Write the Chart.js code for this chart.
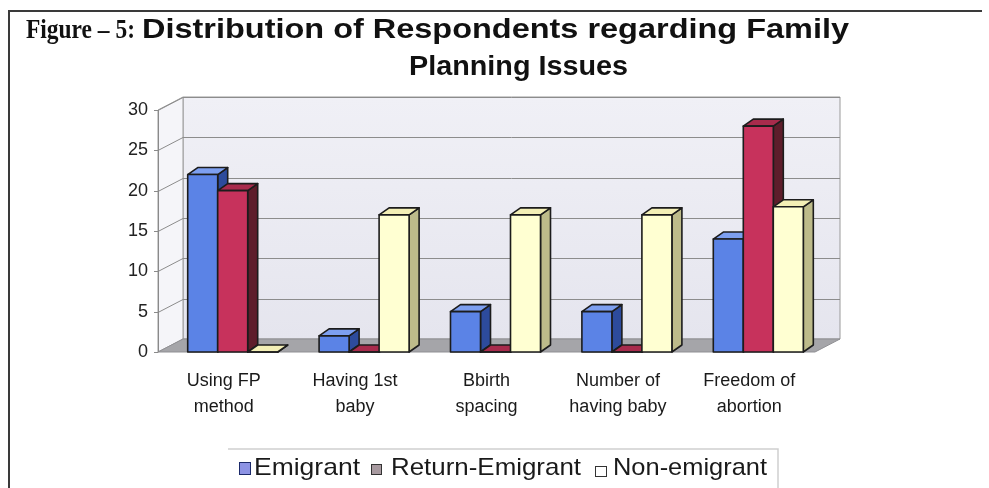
<!DOCTYPE html>
<html>
<head>
<meta charset="utf-8">
<script src="https://cdn.jsdelivr.net/npm/chart.js@4.4.1/dist/chart.umd.min.js"></script>
<style>
  html, body { margin: 0; padding: 0; background: #fff; }
</style>
</head>
<body>
<canvas id="fpChart" width="989" height="488"></canvas>
<script>
const categories = [
  ['Using FP', 'method'],
  ['Having 1st', 'baby'],
  ['Bbirth', 'spacing'],
  ['Number of', 'having baby'],
  ['Freedom of', 'abortion']
];
const emigrant = [22, 2, 5, 5, 14];
const returnEmigrant = [20, 0, 0, 0, 28];
const nonEmigrant = [0, 17, 17, 17, 18];
const yTicks = [0, 5, 10, 15, 20, 25, 30];

// face colours for each series: front, top, side, legend key
const faces = [
  { front: '#5b83e6', top: '#7d9ff0', side: '#2d4b9c', key: '#8d93e4' },
  { front: '#c7325c', top: '#a82b4c', side: '#5e1d2b', key: '#a89aa0' },
  { front: '#ffffd2', top: '#f3efb6', side: '#bdbb8a', key: '#ffffff' }
];

const WALL = { dx: 25, dy: -13 };  // depth of the back wall
const BAR = { dx: 10, dy: -7 };    // depth of each bar
const SHIFT = 9;                   // bars stand halfway into the floor

function poly(ctx, pts, fill) {
  ctx.beginPath();
  ctx.moveTo(pts[0][0], pts[0][1]);
  for (let i = 1; i < pts.length; i++) ctx.lineTo(pts[i][0], pts[i][1]);
  ctx.closePath();
  if (fill) { ctx.fillStyle = fill; ctx.fill(); }
  ctx.stroke();
}

// text squeezed or stretched to a given width
function fitText(ctx, text, x, y, width) {
  const w = ctx.measureText(text).width;
  ctx.save();
  ctx.translate(x, y);
  ctx.scale(width / w, 1);
  ctx.fillText(text, 0, 0);
  ctx.restore();
}

const wallsPlugin = {
  id: 'walls',
  beforeDatasetsDraw(chart) {
    const { ctx, chartArea: a, scales } = chart;
    const y = scales.y;
    ctx.save();
    ctx.lineWidth = 1;
    ctx.strokeStyle = '#9a9a9a';
    // back wall
    const g = ctx.createLinearGradient(0, a.top + WALL.dy, 0, a.bottom + WALL.dy);
    g.addColorStop(0, '#f0f0f6');
    g.addColorStop(1, '#e5e5ee');
    poly(ctx, [[a.left + WALL.dx, a.top + WALL.dy], [a.right + WALL.dx, a.top + WALL.dy],
               [a.right + WALL.dx, a.bottom + WALL.dy], [a.left + WALL.dx, a.bottom + WALL.dy]], g);
    // side wall
    poly(ctx, [[a.left, a.top], [a.left + WALL.dx, a.top + WALL.dy],
               [a.left + WALL.dx, a.bottom + WALL.dy], [a.left, a.bottom]], '#f5f5f9');
    // gridlines
    ctx.strokeStyle = '#8c8c8c';
    yTicks.forEach(v => {
      if (v === 0) return;
      const py = Math.round(y.getPixelForValue(v)) + 0.5;
      ctx.beginPath();
      ctx.moveTo(a.left, py);
      ctx.lineTo(a.left + WALL.dx, py + WALL.dy);
      ctx.lineTo(a.right + WALL.dx, py + WALL.dy);
      ctx.stroke();
    });
    // floor
    ctx.strokeStyle = '#8f8f93';
    poly(ctx, [[a.left, a.bottom], [a.right, a.bottom],
               [a.right + WALL.dx, a.bottom + WALL.dy], [a.left + WALL.dx, a.bottom + WALL.dy]], '#a5a5a9');
    // value axis with small ticks
    ctx.strokeStyle = '#8a8a8a';
    ctx.beginPath();
    ctx.moveTo(a.left + 0.5, a.top);
    ctx.lineTo(a.left + 0.5, a.bottom);
    yTicks.forEach(v => {
      const py = Math.round(y.getPixelForValue(v)) + 0.5;
      ctx.moveTo(a.left - 4, py);
      ctx.lineTo(a.left, py);
    });
    ctx.stroke();
    ctx.restore();
  }
};

const barsPlugin = {
  id: 'bars3d',
  afterDatasetsDraw(chart) {
    const ctx = chart.ctx;
    ctx.save();
    ctx.lineWidth = 1.6;
    ctx.strokeStyle = '#1c1c1c';
    ctx.lineJoin = 'round';
    categories.forEach((c, i) => {
      chart.data.datasets.forEach((ds, d) => {
        const el = chart.getDatasetMeta(d).data[i];
        const p = el.getProps(['x', 'y', 'base', 'width'], true);
        const x0 = p.x - p.width / 2 + SHIFT;
        const x1 = p.x + p.width / 2 + SHIFT;
        const top = p.y, base = p.base;
        const f = faces[d];
        poly(ctx, [[x1, base], [x1 + BAR.dx, base + BAR.dy], [x1 + BAR.dx, top + BAR.dy], [x1, top]], f.side);
        poly(ctx, [[x0, top], [x0 + BAR.dx, top + BAR.dy], [x1 + BAR.dx, top + BAR.dy], [x1, top]], f.top);
        poly(ctx, [[x0, top], [x1, top], [x1, base], [x0, base]], f.front);
      });
    });
    ctx.restore();
  }
};

const decorPlugin = {
  id: 'decor',
  afterDraw(chart) {
    const ctx = chart.ctx;
    ctx.save();
    // outer frame
    ctx.strokeStyle = '#3a3a3a';
    ctx.lineWidth = 2;
    ctx.beginPath();
    ctx.moveTo(9, 488);
    ctx.lineTo(9, 11);
    ctx.lineTo(982, 11);
    ctx.stroke();

    // title
    ctx.fillStyle = '#111';
    ctx.textBaseline = 'alphabetic';
    ctx.font = 'bold 28px "Liberation Serif", serif';
    fitText(ctx, 'Figure \u2013 5:', 26, 38, 109);
    ctx.font = 'bold 27px "Liberation Sans", Arial, sans-serif';
    fitText(ctx, 'Distribution of Respondents regarding Family', 142, 38, 707);
    fitText(ctx, 'Planning Issues', 409, 75, 219);

    // legend
    ctx.strokeStyle = '#cfcfcf';
    ctx.lineWidth = 1.5;
    ctx.beginPath();
    ctx.moveTo(228, 449);
    ctx.lineTo(778, 449);
    ctx.lineTo(778, 488);
    ctx.stroke();
    const items = [
      { sq: [239, 462, 11, 12], tx: 254, tw: 106 },
      { sq: [371, 464, 10, 10], tx: 391, tw: 190 },
      { sq: [595, 466, 11, 10], tx: 613, tw: 154 }
    ];
    ctx.font = '24px "Liberation Sans", Arial, sans-serif';
    ctx.lineWidth = 1;
    chart.data.datasets.forEach((ds, d) => {
      const it = items[d];
      ctx.fillStyle = faces[d].key;
      ctx.strokeStyle = d === 0 ? '#1c2a6a' : '#333';
      ctx.fillRect(it.sq[0], it.sq[1], it.sq[2], it.sq[3]);
      ctx.strokeRect(it.sq[0] + 0.5, it.sq[1] + 0.5, it.sq[2], it.sq[3]);
      ctx.fillStyle = '#1a1a1a';
      fitText(ctx, ds.label, it.tx, 475, it.tw);
    });
    ctx.restore();
  }
};

new Chart(document.getElementById('fpChart'), {
  type: 'bar',
  data: {
    labels: categories,
    datasets: [
      { label: 'Emigrant', data: emigrant },
      { label: 'Return-Emigrant', data: returnEmigrant },
      { label: 'Non-emigrant', data: nonEmigrant }
    ].map(ds => Object.assign(ds, {
      backgroundColor: 'rgba(0,0,0,0)',
      borderWidth: 0,
      barPercentage: 1,
      categoryPercentage: 0.685
    }))
  },
  options: {
    responsive: false,
    animation: false,
    devicePixelRatio: 1,
    layout: { padding: { left: 0, right: 174, top: 110, bottom: 66 } },
    plugins: {
      legend: { display: false },
      title: { display: false },
      tooltip: { enabled: false }
    },
    scales: {
      x: {
        grid: { display: false, drawTicks: false },
        border: { display: false },
        ticks: {
          color: '#1a1a1a',
          padding: 16,
          maxRotation: 0,
          autoSkip: false,
          font: { family: '"Liberation Sans", Arial, sans-serif', size: 18, lineHeight: 1.45 }
        },
        afterFit: s => { s.height = 70; }
      },
      y: {
        min: 0,
        max: 30,
        grid: { display: false, drawTicks: false },
        border: { display: false },
        ticks: {
          stepSize: 5,
          color: '#222',
          padding: 10,
          font: { family: '"Liberation Sans", Arial, sans-serif', size: 18 }
        },
        afterFit: s => { s.width = 158; }
      }
    }
  },
  plugins: [wallsPlugin, barsPlugin, decorPlugin]
});
</script>
</body>
</html>
